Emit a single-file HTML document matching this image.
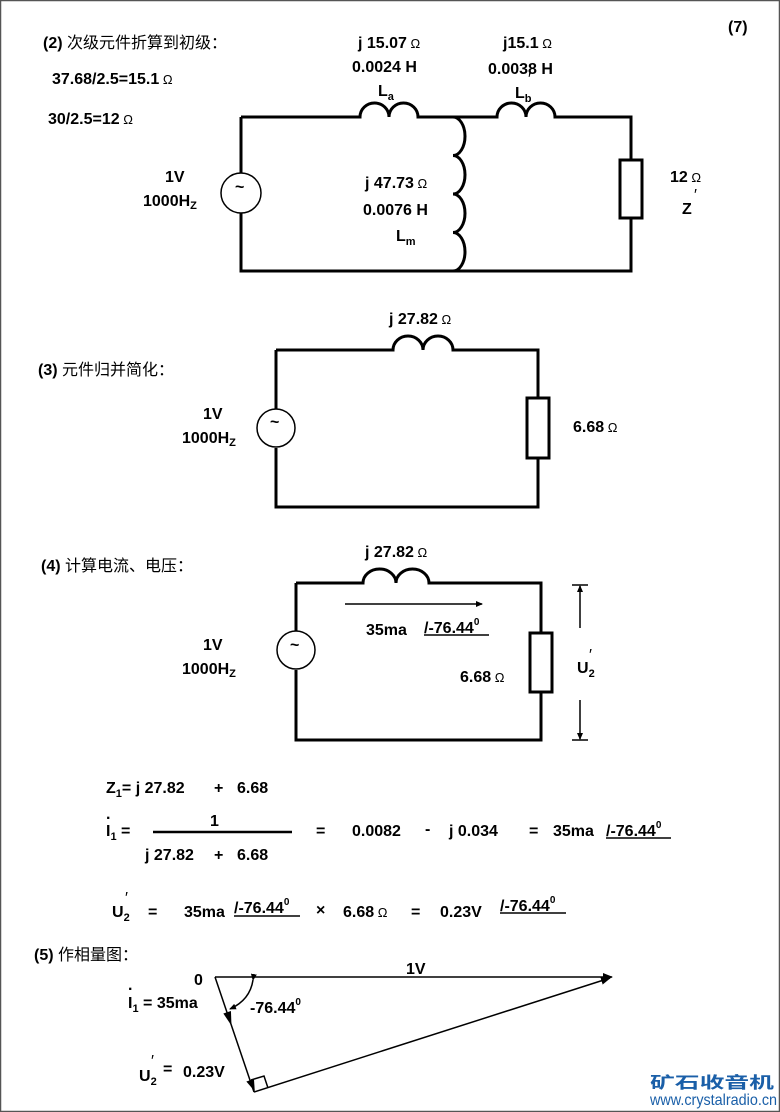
<!DOCTYPE html>
<html><head><meta charset="utf-8"><style>
html,body{margin:0;padding:0;background:#fff}
svg{display:block}
text{font-family:"Liberation Sans","Noto Sans CJK SC",sans-serif;font-weight:bold;font-size:16px;fill:#000;white-space:pre}
.cn{font-weight:normal}
.w{fill:none;stroke:#000;stroke-width:3}
.t{fill:none;stroke:#000;stroke-width:1.5}
</style></head><body>
<svg width="780" height="1112" viewBox="0 0 780 1112" xmlns="http://www.w3.org/2000/svg" xml:space="preserve">
<rect x="0.5" y="0.5" width="779" height="1111" fill="none" stroke="#555" stroke-width="1.5"/>
<defs>
<marker id="ah" markerWidth="10" markerHeight="8" refX="9" refY="4" orient="auto" markerUnits="userSpaceOnUse"><path d="M0,0 L10,4 L0,8 Z" fill="#000"/></marker>
<marker id="as" markerWidth="7" markerHeight="6" refX="6" refY="3" orient="auto" markerUnits="userSpaceOnUse"><path d="M0,0 L7,3 L0,6 Z" fill="#000"/></marker>
</defs>

<!-- Circuit 1 -->
<text x="43" y="48">(2) <tspan class="cn">次级元件折算到初级：</tspan></text>
<text x="728" y="32">(7)</text>
<text x="52" y="84">37.68/2.5=15.1<tspan class="cn" font-size="13"> Ω</tspan></text>
<text x="48" y="124">30/2.5=12<tspan class="cn" font-size="13"> Ω</tspan></text>
<path class="w" d="M241,117 H360 A14.5,14 0 0 1 389,117 A14.5,14 0 0 1 418,117 H497 A14.5,14 0 0 1 526,117 A14.5,14 0 0 1 555,117 H631 V160 M631,218 V271 H241 V213 M241,173 V117"/>
<path class="w" d="M453,117 A12,19.25 0 0 1 453,155.5 A12,19.25 0 0 1 453,194 A12,19.25 0 0 1 453,232.5 A12,19.25 0 0 1 453,271"/>
<circle cx="241" cy="193" r="20" class="t" stroke-width="2"/>
<text x="235" y="192" font-size="14">~</text>
<rect x="620" y="160" width="22" height="58" class="w" stroke-width="2.5"/>
<text x="358" y="48">j 15.07<tspan class="cn" font-size="13"> Ω</tspan></text>
<text x="352" y="72">0.0024 H</text>
<text x="378" y="96">L<tspan font-size="11" dy="4">a</tspan></text>
<text x="503" y="48">j15.1<tspan class="cn" font-size="13"> Ω</tspan></text>
<text x="488" y="74">0.0038 H</text>
<text x="515" y="98">L<tspan font-size="11" dy="4">b</tspan></text>
<text x="528" y="84" font-size="10" class="cn">′</text>
<text x="165" y="182">1V</text>
<text x="143" y="206">1000H<tspan font-size="11" dy="3">Z</tspan></text>
<text x="365" y="188">j 47.73<tspan class="cn" font-size="13"> Ω</tspan></text>
<text x="363" y="215">0.0076 H</text>
<text x="396" y="241">L<tspan font-size="11" dy="4">m</tspan></text>
<text x="670" y="182">12<tspan class="cn" font-size="13"> Ω</tspan></text>
<text x="682" y="214">Z</text>
<text x="694" y="200" font-size="10" class="cn">′</text>

<!-- Circuit 2 -->
<text x="38" y="375">(3) <tspan class="cn">元件归并简化：</tspan></text>
<path class="w" d="M276,350 H393 A15,14 0 0 1 423,350 A15,14 0 0 1 453,350 H538 V398 M538,458 V507 H276 V448 M276,409 V350"/>
<circle cx="276" cy="428" r="19" class="t" stroke-width="2"/>
<text x="270" y="427" font-size="14">~</text>
<rect x="527" y="398" width="22" height="60" class="w" stroke-width="2.5"/>
<text x="389" y="324">j 27.82<tspan class="cn" font-size="13"> Ω</tspan></text>
<text x="203" y="419">1V</text>
<text x="182" y="443">1000H<tspan font-size="11" dy="3">Z</tspan></text>
<text x="573" y="432">6.68<tspan class="cn" font-size="13"> Ω</tspan></text>

<!-- Circuit 3 -->
<text x="41" y="571">(4) <tspan class="cn">计算电流、电压：</tspan></text>
<path class="w" d="M296,583 H363 A16.5,14 0 0 1 396,583 A16.5,14 0 0 1 429,583 H541 V633 M541,692 V740 H296 V670 M296,631 V583"/>
<circle cx="296" cy="650" r="19" class="t" stroke-width="2"/>
<text x="290" y="650" font-size="14">~</text>
<rect x="530" y="633" width="22" height="59" class="w" stroke-width="2.5"/>
<text x="365" y="557">j 27.82<tspan class="cn" font-size="13"> Ω</tspan></text>
<line x1="345" y1="604" x2="482" y2="604" class="t" marker-end="url(#as)"/>
<text x="366" y="635">35ma</text>
<text x="424" y="633">/-76.44<tspan font-size="10" dy="-8">0</tspan></text>
<line x1="424" y1="635" x2="489" y2="635" class="t" stroke-width="1.2"/>
<text x="203" y="650">1V</text>
<text x="182" y="674">1000H<tspan font-size="11" dy="3">Z</tspan></text>
<text x="460" y="682">6.68<tspan class="cn" font-size="13"> Ω</tspan></text>
<line x1="572" y1="585" x2="588" y2="585" class="t" stroke-width="1.2"/>
<line x1="572" y1="740" x2="588" y2="740" class="t" stroke-width="1.2"/>
<line x1="580" y1="628" x2="580" y2="586" class="t" stroke-width="1.2" marker-end="url(#as)"/>
<line x1="580" y1="700" x2="580" y2="739" class="t" stroke-width="1.2" marker-end="url(#as)"/>
<text x="577" y="673">U<tspan font-size="11" dy="4">2</tspan></text>
<text x="589" y="660" font-size="10" class="cn">′</text>

<!-- Equations -->
<text x="106" y="793">Z<tspan font-size="11" dy="4">1</tspan><tspan dy="-4">= j 27.82</tspan></text>
<text x="214" y="793">+</text>
<text x="237" y="793">6.68</text>
<text x="106" y="819" font-size="14">.</text>
<text x="106" y="836">I<tspan font-size="11" dy="4">1</tspan><tspan dy="-4"> =</tspan></text>
<text x="210" y="826">1</text>
<line x1="153" y1="832" x2="292" y2="832" stroke="#000" stroke-width="2.5"/>
<text x="145" y="860">j 27.82</text>
<text x="214" y="860">+</text>
<text x="237" y="860">6.68</text>
<text x="316" y="836">=</text>
<text x="352" y="836">0.0082</text>
<text x="425" y="834">-</text>
<text x="449" y="836">j 0.034</text>
<text x="529" y="836">=</text>
<text x="553" y="836">35ma</text>
<text x="606" y="836">/-76.44<tspan font-size="10" dy="-8">0</tspan></text>
<line x1="606" y1="838" x2="671" y2="838" class="t" stroke-width="1.2"/>

<text x="112" y="917">U<tspan font-size="11" dy="4">2</tspan></text>
<text x="125" y="903" font-size="10" class="cn">′</text>
<text x="148" y="917">=</text>
<text x="184" y="917">35ma</text>
<text x="234" y="913">/-76.44<tspan font-size="10" dy="-8">0</tspan></text>
<line x1="234" y1="916" x2="300" y2="916" class="t" stroke-width="1.2"/>
<text x="316" y="915">×</text>
<text x="343" y="917">6.68<tspan class="cn" font-size="13"> Ω</tspan></text>
<text x="411" y="917">=</text>
<text x="440" y="917">0.23V</text>
<text x="500" y="911">/-76.44<tspan font-size="10" dy="-8">0</tspan></text>
<line x1="500" y1="913" x2="566" y2="913" class="t" stroke-width="1.2"/>

<!-- Phasor -->
<text x="34" y="960">(5) <tspan class="cn">作相量图：</tspan></text>
<text x="194" y="985">0</text>
<text x="406" y="974">1V</text>
<line x1="215" y1="977" x2="612" y2="977" class="t" stroke-width="2" marker-end="url(#ah)"/>
<line x1="215" y1="977" x2="254" y2="1092" class="t" stroke-width="2"/>
<path d="M225,1012 L233,1012 L229,1026 Z" fill="#000" transform="rotate(-18 229 1018)"/>
<path d="M248,1080 L256,1080 L253,1092 Z" fill="#000" transform="rotate(-18 252 1086)"/>
<line x1="254" y1="1092" x2="610" y2="978" class="t" stroke-width="2" marker-end="url(#ah)"/>
<path d="M251,1080 L264,1076 L268,1088" class="t" stroke-width="1.2"/>
<path d="M253,980 Q250,1000 230,1009" class="t" stroke-width="1.2" marker-start="url(#as)" marker-end="url(#as)"/>
<text x="128" y="990" font-size="14">.</text>
<text x="128" y="1008">I<tspan font-size="11" dy="4">1</tspan><tspan dy="-4"> = 35ma</tspan></text>
<text x="250" y="1013">-76.44<tspan font-size="10" dy="-8">0</tspan></text>
<text x="139" y="1081">U<tspan font-size="11" dy="4">2</tspan></text>
<text x="151" y="1066" font-size="10" class="cn">′</text>
<text x="163" y="1074" font-size="14">=</text>
<text x="183" y="1077">0.23V</text>

<!-- watermark -->
<text x="650" y="1088" font-size="24" textLength="124" lengthAdjust="spacingAndGlyphs" style="fill:#1a5fa8">矿石收音机</text>
<text x="650" y="1105" font-size="11" class="cn" textLength="127" lengthAdjust="spacingAndGlyphs" style="fill:#1a5fa8">www.crystalradio.cn</text>
</svg>
</body></html>
